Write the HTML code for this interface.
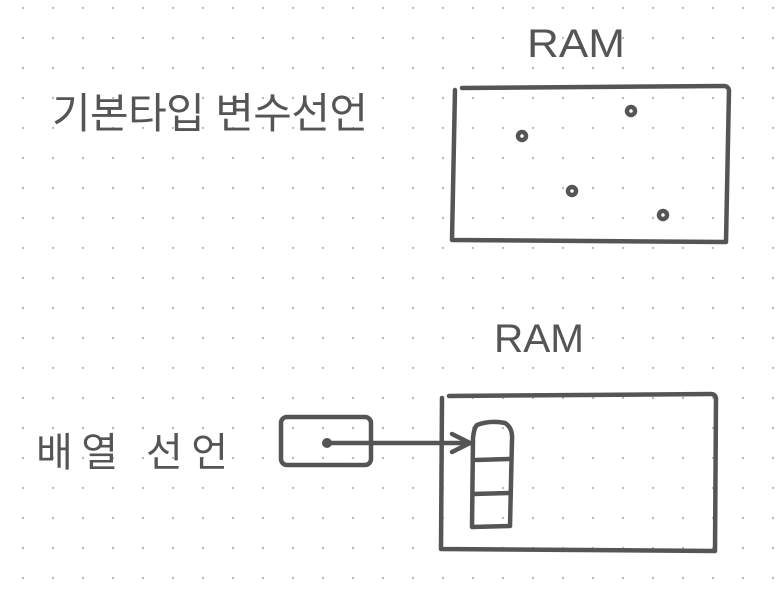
<!DOCTYPE html>
<html><head><meta charset="utf-8"><style>
html,body{margin:0;padding:0;background:#fff;}
svg{display:block;}
text{font-family:"Liberation Sans","Noto Sans CJK KR",sans-serif;fill:#555;}
</style></head><body>
<svg width="784" height="592" viewBox="0 0 784 592" xmlns="http://www.w3.org/2000/svg">
<defs>
<pattern id="dots" x="21.5" y="6.5" width="30" height="30" patternUnits="userSpaceOnUse">
<circle cx="1.5" cy="1.5" r="1.2" fill="#bbb"/>
</pattern>
</defs>
<rect width="784" height="592" fill="#fff"/>
<rect width="784" height="592" fill="url(#dots)"/>
<g fill="none" stroke="#555" stroke-width="4.5" stroke-linecap="round" stroke-linejoin="round">
<path d="M455 90 L452 240 L726 242 L729 90 Q728 86 724 86 L462 88"/>
<circle cx="522" cy="136" r="4"/>
<circle cx="631" cy="111" r="4"/>
<circle cx="572" cy="191" r="4"/>
<circle cx="663" cy="215" r="4"/>
<rect x="281" y="417" width="90" height="48" rx="6"/>
<path d="M442 398 L441 549 L715 551 L716 398 Q715 394 711 394 L449 396"/>
<path d="M327 443 L470 443"/>
<path d="M452 434 L470 443 L452 452"/>
<path d="M477 425 Q490 420 505 423 Q513 428 512 440 L510 526 L472 527 L473 438 Q474 428 477 425 Z"/>
<path d="M476 460 L510 459"/>
<path d="M473 494 L510 493"/>
</g>
<circle cx="327" cy="443" r="5" fill="#555"/>
<text x="52" y="128" font-size="42" textLength="316" lengthAdjust="spacing">기본타입 변수선언</text>
<text x="36" y="466" font-size="40" textLength="192" lengthAdjust="spacing">배열 선언</text>
<text x="527" y="57" font-size="40" textLength="98" lengthAdjust="spacingAndGlyphs">RAM</text>
<text x="494" y="352" font-size="40" textLength="90" lengthAdjust="spacingAndGlyphs">RAM</text>
</svg>
</body></html>
